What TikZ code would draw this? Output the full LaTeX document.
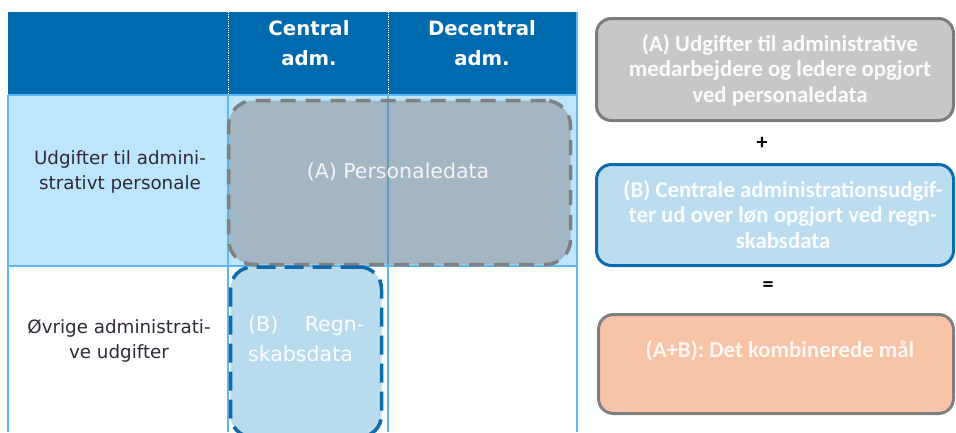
\documentclass[tikz,border=0pt]{standalone}
\usepackage{fontspec}
\setmainfont{DejaVu Sans}
\newfontfamily\calib{Carlito}
\definecolor{hdr}{HTML}{006AAE}
\definecolor{rowone}{HTML}{BDE6FC}
\definecolor{gridc}{HTML}{5CB8F0}
\definecolor{lbl}{HTML}{32283A}
\definecolor{aedge}{HTML}{808080}
\definecolor{afill}{HTML}{7C6E6E}
\definecolor{bedge}{HTML}{0E6AAB}
\definecolor{bfill}{HTML}{B9DBEE}
\definecolor{onefill}{HTML}{C6C7C9}
\definecolor{oneedge}{HTML}{7C7C7C}
\definecolor{twofill}{HTML}{BBDDEF}
\definecolor{twoedge}{HTML}{0B6BAF}
\definecolor{threefill}{HTML}{F8C4A7}
\definecolor{threeedge}{HTML}{808080}
\begin{document}
\begin{tikzpicture}[x=1pt,y=-1pt,
  gridline/.style={draw=gridc,line width=1.2pt},
  hdrsep/.style={draw=white,line width=0.8pt,densely dotted},
  rowlbl/.style={inner sep=0pt,align=center,text=lbl,font={\fontsize{18.3}{24.5}\selectfont}},
  hdrtxt/.style={inner sep=0pt,align=center,text=white,font={\bfseries\fontsize{19.7}{30}\selectfont}},
  dashA/.style={draw=aedge,line width=3.5pt,dash pattern=on 15pt off 10pt,rounded corners=25pt,fill=afill,fill opacity=0.4,draw opacity=1},
  dashB/.style={draw=bedge,line width=3.5pt,dash pattern=on 19pt off 9pt,rounded corners=22pt,fill=bfill},
  intxt/.style={inner sep=0pt,font={\fontsize{20.5}{30}\selectfont}},
  rbox/.style={rectangle,rounded corners=15pt,line width=3pt,inner sep=0pt},
  rtxt/.style={inner sep=0pt,align=center,font={\calib\bfseries\fontsize{22.8}{25.5}\selectfont}},
  optxt/.style={inner sep=0pt,font={\calib\bfseries\fontsize{22}{24}\selectfont}}
]
\useasboundingbox (0,0) rectangle (956,432);
\clip (0,0) rectangle (956,432);
% table background
\fill[hdr] (8,12) rectangle (577,95);
\fill[rowone] (8,95) rectangle (577,266);
\draw[hdrsep] (228,12) -- (228,95);
\draw[hdrsep] (388,12) -- (388,95);
\draw[gridline] (8,95) -- (577,95);
\draw[gridline] (8,266) -- (577,266);
\draw[gridline] (8,95) -- (8,432);
\draw[gridline] (228,95) -- (228,432);
\draw[gridline] (388,95) -- (388,432);
\draw[gridline] (577,12) -- (577,432);
% header
\node[hdrtxt,anchor=base] (hcentral) at (309,65) {Central\\adm.};
\node[hdrtxt,anchor=base] (hdecentral) at (482,65) {Decentral\\adm.};
% row labels
\node[rowlbl,anchor=base] (rlone) at (120,189) {Udgifter til admini-\\strativt personale};
\node[rowlbl,anchor=base] (rltwo) at (119,358) {Øvrige administrati-\\ve udgifter};
% dashed boxes
\node[dashA,minimum width=342pt,minimum height=164pt] (boxA) at (399.5,182.5) {};
\node[intxt,anchor=base,text=white!92!afill] (txtA) at (398,178) {(A) Personaledata};
\node[dashB,minimum width=151pt,minimum height=170pt] (boxB) at (306,352) {};
\node[intxt,anchor=base west,text width=116pt,align=left,text=white!95!bfill] (txtB) at (248,331) {(B)\hfill Regn-\\skabsdata};
% right boxes
\node[rbox,fill=onefill,draw=oneedge,minimum width=357pt,minimum height=102pt] (one) at (775,69.5) {};
\node[rtxt,anchor=base,text=white!93!onefill] (onetxt) at (780,102) {(A) Udgifter til administrative\\medarbejdere og ledere opgjort\\ved personaledata};
\node[optxt] (plus) at (762,143) {+};
\node[rbox,fill=twofill,draw=twoedge,minimum width=357pt,minimum height=101pt] (two) at (775,215) {};
\node[rtxt,anchor=base,text=white!93!twofill] (twotxt) at (783,248) {(B) Centrale administrationsudgif-\\ter ud over løn opgjort ved regn-\\skabsdata};
\node[optxt] (eq) at (768,287) {=};
\node[rbox,fill=threefill,draw=threeedge,minimum width=355pt,minimum height=99pt] (three) at (776,364) {};
\node[rtxt,anchor=base,text=white!85!threefill] (threetxt) at (780,357) {(A+B): Det kombinerede mål};
\end{tikzpicture}
\end{document}
